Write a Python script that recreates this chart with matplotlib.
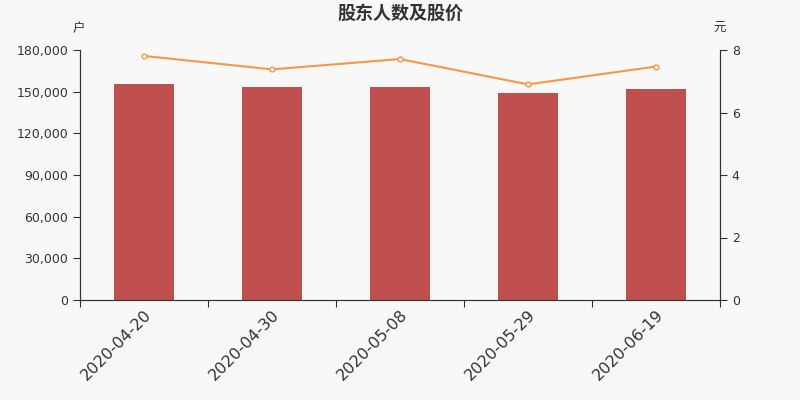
import matplotlib.pyplot as plt
import numpy as np

plt.rcParams['font.family'] = ['DejaVu Sans', 'Noto Sans CJK SC']

dates = ['2020-04-20', '2020-04-30', '2020-05-08', '2020-05-29', '2020-06-19']
holders = [155500, 153100, 153400, 149300, 151700]
prices = [7.81, 7.38, 7.71, 6.90, 7.47]

bg = '#f8f8f8'
txt = '#333333'
fig = plt.figure(figsize=(8, 4), dpi=100, facecolor=bg)
ax = fig.add_axes([0.1, 0.25, 0.8, 0.625], facecolor=bg)
x = np.arange(len(dates))

ax.bar(x, holders, width=0.47, color='#c0504d', zorder=2)
ax.set_xlim(-0.5, len(dates) - 0.5)
ax.set_ylim(0, 180000)
ax.set_yticks(np.arange(0, 180001, 30000))
ax.set_yticklabels([f'{v:,}' for v in range(0, 180001, 30000)], fontsize=9, color=txt)

# tick marks between categories, labels at centres
ax.set_xticks(np.arange(-0.5, len(dates), 1.0))
ax.set_xticklabels([])
ax.set_xticks(x, minor=True)
ax.set_xticklabels(dates, minor=True, rotation=45, ha='right', rotation_mode='anchor',
                   fontsize=11.5, color=txt)
ax.tick_params(axis='x', which='minor', length=0, pad=5)
ax.tick_params(axis='x', which='major', length=5, color=txt)
ax.tick_params(axis='y', length=5, color=txt)

ax2 = ax.twinx()
ax2.plot(x, prices, color='#f79646', lw=1.5, marker='o', ms=3.5,
         mfc='white', mec='#f79646', mew=1, zorder=3)
ax2.set_ylim(0, 8)
ax2.set_yticks([0, 2, 4, 6, 8])
ax2.tick_params(axis='y', length=5, color=txt, labelsize=9, labelcolor=txt)

for a in (ax, ax2):
    a.spines['top'].set_visible(False)
    for s in ('left', 'right', 'bottom'):
        a.spines[s].set_color(txt)

fig.text(0.099, 0.928, '户', fontsize=9, color=txt, ha='center', va='center')
fig.text(0.899, 0.928, '元', fontsize=9, color=txt, ha='center', va='center')
fig.text(0.5, 0.965, '股东人数及股价', fontsize=13, fontweight='bold', color=txt,
         ha='center', va='center')

fig.savefig('out.png', dpi=100, facecolor=bg)
